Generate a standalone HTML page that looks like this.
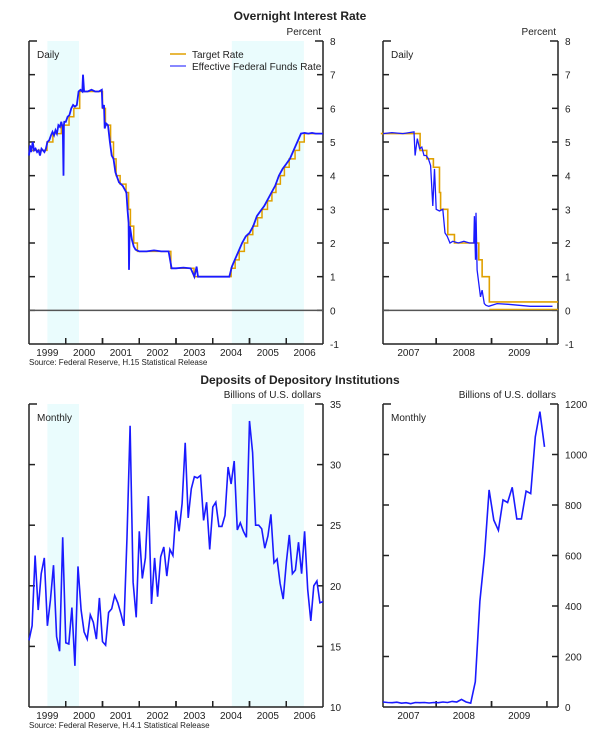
<!DOCTYPE html>
<html><head><meta charset="utf-8">
<style>
body{margin:0;background:#fff;width:600px;height:740px;overflow:hidden;font-family:"Liberation Sans",Arial,sans-serif}
svg{display:block}
text{font-family:"Liberation Sans",Arial,sans-serif;fill:#222}
</style></head>
<body>
<svg id="root" width="600" height="740"></svg>
<script>
// ---- data ----
const targetDatesA=[1999.0,1999.49,1999.65,1999.88,2000.09,2000.22,2000.38,2001.0,2001.08,2001.22,2001.3,2001.37,2001.48,2001.64,2001.71,2001.76,2001.85,2001.95,2002.86,2003.49,2004.5,2004.61,2004.72,2004.86,2004.95,2005.09,2005.22,2005.34,2005.49,2005.61,2005.72,2005.84,2005.95,2006.08,2006.24,2006.36,2006.49];
const targetValsA=[4.75,5.0,5.25,5.5,5.75,6.0,6.5,6.0,5.5,5.0,4.5,4.0,3.75,3.5,3.0,2.5,2.0,1.75,1.25,1.0,1.25,1.5,1.75,2.0,2.25,2.5,2.75,3.0,3.25,3.5,3.75,4.0,4.25,4.5,4.75,5.0,5.25];
const effDatesA=[1999.0,1999.03,1999.06,1999.1,1999.14,1999.18,1999.22,1999.26,1999.3,1999.34,1999.38,1999.42,1999.46,1999.5,1999.55,1999.6,1999.64,1999.68,1999.72,1999.76,1999.8,1999.84,1999.88,1999.92,1999.94,1999.95,1999.96,2000.0,2000.05,2000.1,2000.15,2000.2,2000.25,2000.3,2000.35,2000.4,2000.45,2000.47,2000.5,2000.6,2000.7,2000.8,2000.9,2000.98,2001.0,2001.04,2001.06,2001.1,2001.15,2001.2,2001.25,2001.3,2001.35,2001.4,2001.45,2001.5,2001.55,2001.6,2001.65,2001.68,2001.71,2001.72,2001.74,2001.76,2001.8,2001.85,2001.9,2002.0,2002.2,2002.4,2002.6,2002.8,2002.88,2003.0,2003.2,2003.4,2003.5,2003.56,2003.6,2003.8,2004.0,2004.2,2004.45,2004.52,2004.6,2004.7,2004.8,2004.9,2005.0,2005.1,2005.2,2005.3,2005.4,2005.5,2005.6,2005.7,2005.8,2005.9,2006.0,2006.1,2006.2,2006.3,2006.4,2006.5,2006.6,2006.7,2006.8,2006.9,2007.0];
const effValsA=[4.6,4.9,4.7,5.0,4.75,4.8,4.7,4.75,4.6,4.8,4.75,4.7,4.8,5.0,5.05,5.2,5.3,5.2,5.35,5.25,5.5,5.45,5.6,5.4,4.0,5.5,5.6,5.6,5.75,5.8,6.0,6.1,6.05,6.1,6.5,6.55,6.5,7.0,6.5,6.5,6.55,6.5,6.5,6.55,6.0,6.1,5.4,5.55,5.5,5.0,4.6,4.5,4.1,3.95,3.8,3.75,3.7,3.6,3.5,3.0,2.6,1.2,2.5,2.4,2.1,1.9,1.8,1.75,1.75,1.78,1.75,1.75,1.25,1.25,1.27,1.25,1.0,1.3,1.0,1.0,1.0,1.0,1.0,1.3,1.5,1.75,2.0,2.2,2.3,2.5,2.8,2.95,3.1,3.3,3.5,3.7,4.0,4.2,4.35,4.5,4.75,5.0,5.25,5.27,5.25,5.27,5.25,5.25,5.25];
const targetDatesB=[2007.0,2007.71,2007.83,2007.95,2008.06,2008.08,2008.21,2008.33,2008.77,2008.83,2008.96,2010.2];
const targetValsB=[5.25,4.75,4.5,4.25,3.5,3.0,2.25,2.0,1.5,1.0,0.25,0.25];
const effDatesB=[2007.04,2007.2,2007.4,2007.6,2007.62,2007.66,2007.7,2007.74,2007.78,2007.82,2007.86,2007.9,2007.94,2007.97,2008.0,2008.06,2008.12,2008.16,2008.2,2008.25,2008.3,2008.4,2008.5,2008.6,2008.68,2008.69,2008.71,2008.72,2008.74,2008.77,2008.8,2008.83,2008.87,2008.9,2008.95,2009.1,2009.3,2009.5,2009.7,2009.9,2010.1];
const effValsB=[5.25,5.28,5.25,5.3,4.6,5.1,4.8,4.85,4.6,4.6,4.5,4.3,3.1,4.2,3.0,2.95,3.0,2.3,2.2,2.0,2.05,2.0,2.05,2.0,2.0,2.8,1.5,2.9,1.2,0.8,0.4,0.6,0.2,0.15,0.12,0.2,0.18,0.15,0.12,0.12,0.12];
const depositsA=[15.5,16.7,22.5,18,21,22.3,16.7,18.8,21.7,15.8,14.6,24,15.3,15.2,18.2,13.4,21.6,18,16.2,15.6,17.6,17.0,15.6,19,15.4,15.1,17.8,18.1,19.2,18.6,17.7,16.7,24,33.2,20.3,17.4,24.5,20.6,22.3,27.4,18.5,22.3,19.1,22.4,23.2,20.8,23,22.5,26.2,24.5,26.8,31.8,25.6,28,29,28.9,29.1,25.4,26.9,23,26.5,26.9,24.9,24.9,25.8,29.8,28.4,30.3,24.6,25.2,24.5,24.0,33.6,31,25,25,24.7,23.1,24.1,25.9,21.9,22.2,20.2,18.9,21.9,24.2,21,21.3,23.6,21,24.5,19.7,17.1,20,20.4,18.6,18.7];
const depositsB=[20,18,17,19,15,17,13,18,17,18,16,18,17,20,18,22,20,30,20,15,100,420,600,860,740,700,820,810,870,745,745,855,845,1070,1170,1030];
const leftYears=["1999","2000","2001","2002","2003","2004","2005","2006"];
const rightYears=["2007","2008","2009"];
const rateTicks=[-1,0,1,2,3,4,5,6,7,8];
const depTicksA=[10,15,20,25,30,35];
const depTicksB=[0,200,400,600,800,1000,1200];
const shading=[[1999.5,2000.36],[2004.52,2006.48]];

const NS="http://www.w3.org/2000/svg";
const root=document.getElementById('root');
function mk(tag,attrs,parent){const e=document.createElementNS(NS,tag);for(const k in attrs)e.setAttribute(k,attrs[k]);(parent||root).appendChild(e);return e;}
function txt(s,x,y,size,anchor,parent,fill,weight){const t=mk('text',{x:x,y:y,'font-size':size,'text-anchor':anchor||'start'},parent);if(fill)t.setAttribute('fill',fill);if(weight)t.setAttribute('font-weight',weight);t.textContent=s;return t;}

function panel(name,x0,x1,y0,y1,t0,t1,vmin,vmax,ticks,years,yearStart,unitLabel,note,shade){
  const g=mk('g',{});
  
  
  const sx=t=>x0+(t-t0)/(t1-t0)*(x1-x0);
  const sy=v=>y1-(v-vmin)/(vmax-vmin)*(y1-y0);
  if(shade){shade.forEach(s=>{const r=mk('rect',{x:sx(s[0]),y:y0,width:sx(s[1])-sx(s[0]),height:y1-y0,fill:'#eafcfd'},g);
    
    });}
  const ax=mk('g',{stroke:'#222','stroke-width':1.5,fill:'none'},g);
  
  
  mk('line',{x1:x0,y1:y0,x2:x0,y2:y1},ax);
  mk('line',{x1:x1,y1:y0,x2:x1,y2:y1},ax);
  mk('line',{x1:x0,y1:y1,x2:x1,y2:y1},ax);
  mk('line',{x1:x0,y1:y0,x2:x0+8,y2:y0},ax);
  mk('line',{x1:x1-8,y1:y0,x2:x1,y2:y0},ax);
  ticks.forEach(v=>{const y=sy(v);
    if(v!==vmin&&v!==vmax){mk('line',{x1:x0,y1:y,x2:x0+6,y2:y},ax);mk('line',{x1:x1-6,y1:y,x2:x1,y2:y},ax);}
    const l=txt(String(v),x1+7,y+4,10,'start',g);
    
    });
  years.forEach((yr,i)=>{const a=yearStart+i;
    if(a>t0+0.01) mk('line',{x1:sx(a),y1:y1,x2:sx(a),y2:y1-6},ax);
    if(a+1<t1) mk('line',{x1:sx(a+1),y1:y1,x2:sx(a+1),y2:y1-6},ax);
    const l=txt(yr,sx(a+0.5),y1+12,10,'middle',g);
    
    });
  const u=txt(unitLabel,x1-2,y0-6,10,'end',g);
  
  
  const n=txt(note,x0+8,y0+17,10,'start',g);
  
  
  return {g,sx,sy};
}
function stepPath(p,dates,vals,tEnd){let d='';for(let i=0;i<dates.length;i++){const x=p.sx(dates[i]),y=p.sy(vals[i]);d+=(i?'L'+x+' '+p.sy(vals[i-1])+'L':'M')+x+' '+y;}d+='L'+p.sx(tEnd)+' '+p.sy(vals[vals.length-1]);return d;}
function linePath(p,dates,vals){return dates.map((t,i)=>(i?'L':'M')+p.sx(t).toFixed(1)+' '+p.sy(vals[i]).toFixed(1)).join('');}

const t1=txt('Overnight Interest Rate',300,20,12,'middle',null,'#111','bold');


const t2=txt('Deposits of Depository Institutions',300,384,12,'middle',null,'#111','bold');



const pA=panel('rate-panel-1999-2006',29,323,41,344,1999,2007,-1,8,rateTicks,leftYears,1999,'Percent','Daily',shading);
const z1=mk('line',{x1:29,x2:323,y1:pA.sy(0),y2:pA.sy(0),stroke:'#555','stroke-width':1.5},pA.g);


const ta=mk('path',{d:stepPath(pA,targetDatesA,targetValsA,2007),fill:'none',stroke:'#e0a000','stroke-width':1.5},pA.g);


const ea=mk('path',{d:linePath(pA,effDatesA,effValsA),fill:'none',stroke:'#1a1aff','stroke-width':1.8},pA.g);


const lg=mk('g',{},pA.g);


mk('line',{x1:170,x2:186,y1:54,y2:54,stroke:'#e0a000','stroke-width':1.5},lg);
txt('Target Rate',192,58,10,'start',lg,'#e0a000');
mk('line',{x1:170,x2:186,y1:66,y2:66,stroke:'#6060ff','stroke-width':1.5},lg);
txt('Effective Federal Funds Rate',192,70,10,'start',lg,'#2020ff');
const s1=txt('Source:  Federal Reserve, H.15 Statistical Release',29,365,8,'start');



const pB=panel('rate-panel-2007-2009',383,558,41,344,2007.04,2010.2,-1,8,rateTicks,rightYears,2007,'Percent','Daily',null);
const z2=mk('line',{x1:383,x2:558,y1:pB.sy(0),y2:pB.sy(0),stroke:'#555','stroke-width':1.5},pB.g);


const zb=mk('line',{x1:pB.sx(2008.96),x2:558,y1:pB.sy(0)-1,y2:pB.sy(0)-1,stroke:'#e0a000','stroke-width':1.2},pB.g);


const tb=mk('path',{d:stepPath(pB,targetDatesB,targetValsB,2010.2),fill:'none',stroke:'#e0a000','stroke-width':1.6},pB.g);


const eb=mk('path',{d:linePath(pB,effDatesB,effValsB),fill:'none',stroke:'#1a1aff','stroke-width':1.3},pB.g);



const pC=panel('deposits-panel-1999-2006',29,323,404,707,1999,2007,10,35,depTicksA,leftYears,1999,'Billions of U.S. dollars','Monthly',shading);
const dA=mk('path',{d:linePath(pC,depositsA.map((v,i)=>1999+i*8/(depositsA.length-1)),depositsA),fill:'none',stroke:'#1a1aff','stroke-width':1.6},pC.g);


const s2=txt('Source:  Federal Reserve, H.4.1 Statistical Release',29,728,8,'start');



const pD=panel('deposits-panel-2007-2009',383,558,404,707,2007.04,2010.2,0,1200,depTicksB,rightYears,2007,'Billions of U.S. dollars','Monthly',null);
const dB=mk('path',{d:linePath(pD,depositsB.map((v,i)=>2007.04+i/12),depositsB),fill:'none',stroke:'#1a1aff','stroke-width':1.6},pD.g);


</script>
</body></html>
